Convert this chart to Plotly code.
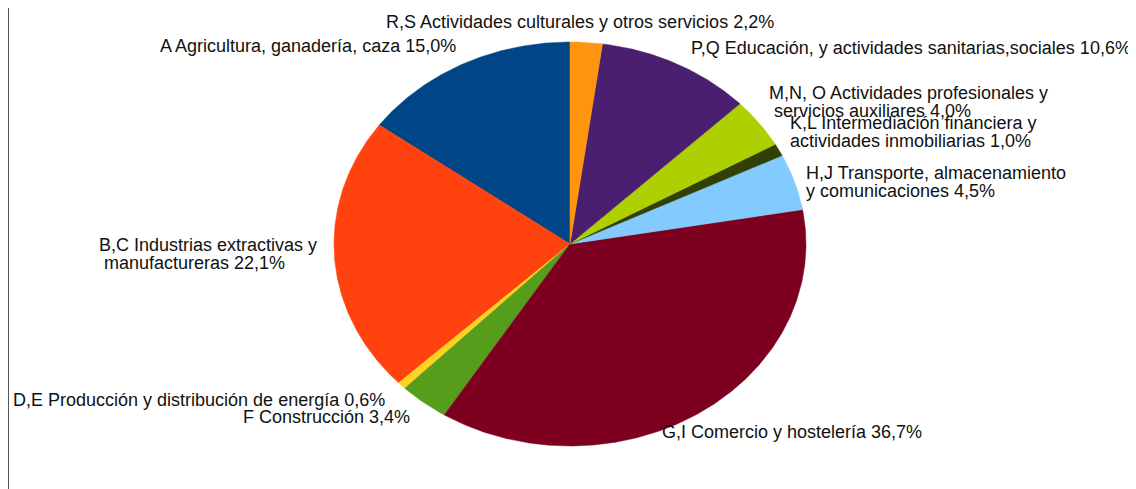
import numpy as np
import plotly.graph_objects as go

# sectores, en el orden del grafico (empieza arriba, sentido antihorario)
sectores = [
    "A Agricultura, ganadería, caza",
    "B,C Industrias extractivas y| manufactureras",
    "D,E Producción y distribución de energía",
    "F Construcción",
    "G,I Comercio y hostelería",
    "H,J Transporte, almacenamiento|y comunicaciones",
    "K,L Intermediación financiera y|actividades inmobiliarias",
    "M,N, O Actividades profesionales y| servicios auxiliares",
    "P,Q Educación, y actividades sanitarias,sociales",
    "R,S Actividades culturales y otros servicios",
]
porcentajes = [15.0, 22.1, 0.6, 3.4, 36.7, 4.5, 1.0, 4.0, 10.6, 2.2]
colores = ["#004586", "#ff420e", "#ffd320", "#579d1c", "#7e0021",
           "#83caff", "#314004", "#aecf00", "#4b1f6f", "#ff950e"]

# donde va cada etiqueta (pixeles de la pagina: x, y de la primera linea, anclaje)
pos_etiquetas = [
    (458, 46, "right"), (97, 245, "left"), (11, 400, "left"),
    (412, 417, "right"), (660, 432, "left"), (804, 173, "left"),
    (788, 123, "left"), (767, 93, "left"), (1133, 48, "right"),
    (384, 22, "left"),
]

# el body del html deja 8px de margen, asi que la figura empieza en (8, 8)
OFF = 8
W, H = 1136 - OFF, 489 - OFF
cx, cy, rx, ry = 570 - OFF, 244 - OFF, 236, 202

fig = go.Figure()
total = sum(porcentajes)
acum = 0.0
for nombre, v, col in zip(sectores, porcentajes, colores):
    a0 = acum / total * 2 * np.pi
    acum += v
    a1 = acum / total * 2 * np.pi
    t = np.linspace(a0, a1, max(int(v * 8), 4))
    xs = np.concatenate([[0], -np.sin(t), [0]])
    ys = np.concatenate([[0], np.cos(t), [0]])
    fig.add_trace(go.Scatter(x=xs, y=ys, fill="toself", fillcolor=col,
                             mode="lines", line=dict(color=col, width=0.5),
                             hoverinfo="text", text=nombre.replace("|", " "),
                             showlegend=False))

fuente = dict(family="Liberation Sans, Arial, sans-serif", size=18, color="#111111")
for nombre, v, (px, py, anc) in zip(sectores, porcentajes, pos_etiquetas):
    lineas = nombre.split("|")
    lineas[-1] = lineas[-1] + " " + f"{v:.1f}".replace(".", ",") + "%"
    for i, ln in enumerate(lineas):
        txt = ("&nbsp;" + ln[1:]) if ln.startswith(" ") else ln
        fig.add_annotation(x=(px - OFF) / W, y=1 - (py - OFF + i * 18) / H,
                           xref="paper", yref="paper", text=txt,
                           showarrow=False, xanchor=anc, yanchor="middle",
                           font=fuente, align="left")

fig.add_shape(type="line", xref="paper", yref="paper", x0=0.5 / W, x1=0.5 / W, y0=0, y1=1,
              line=dict(color="#555555", width=1))

fig.update_xaxes(range=[-cx / rx, (W - cx) / rx], visible=False, fixedrange=True)
fig.update_yaxes(range=[-(H - cy) / ry, cy / ry], visible=False, fixedrange=True)
fig.update_layout(width=W, height=H, margin=dict(l=0, r=0, t=0, b=0),
                  plot_bgcolor="white", paper_bgcolor="white")
fig.write_html("out.html")
